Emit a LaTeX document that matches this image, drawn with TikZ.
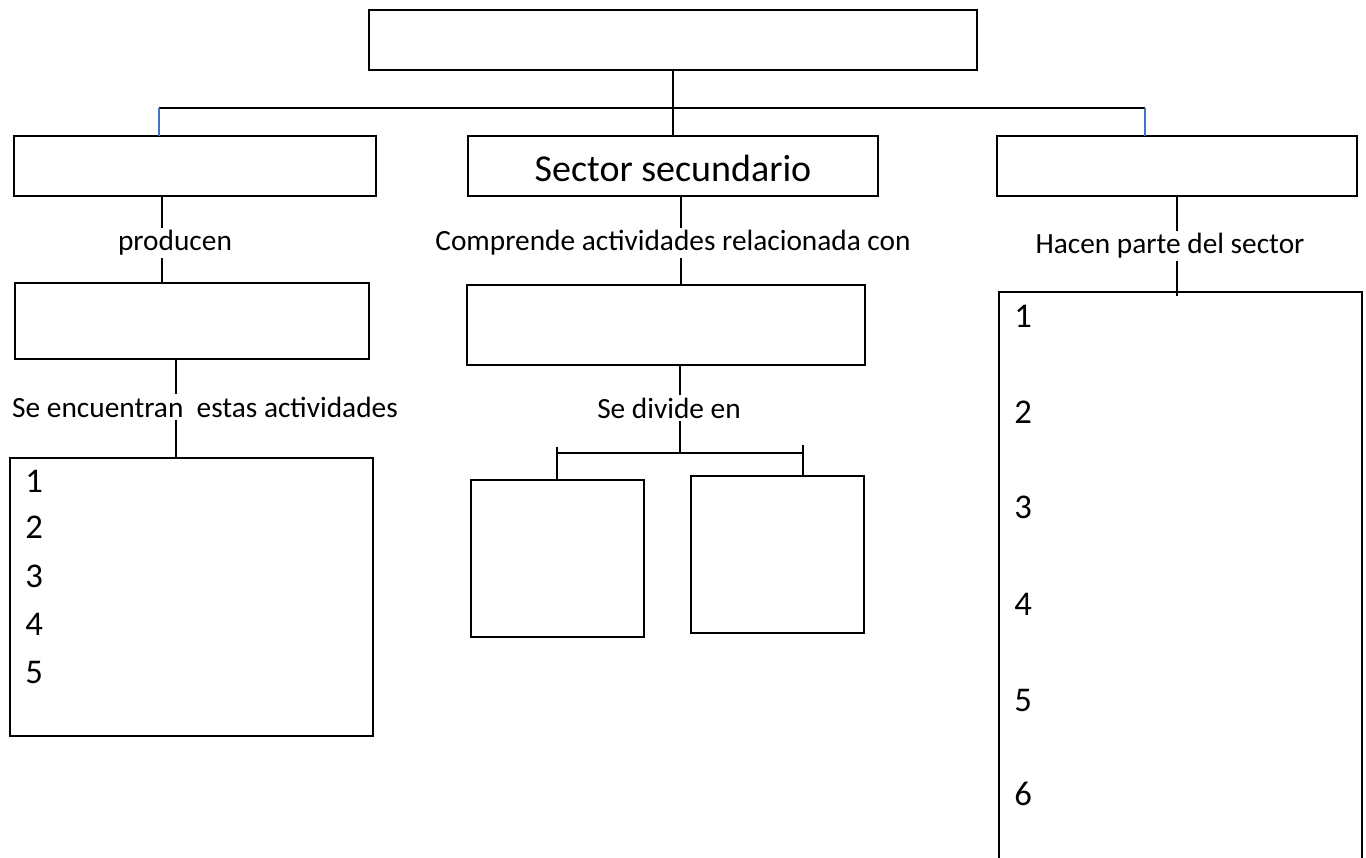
\documentclass[tikz,border=0pt]{standalone}
\usepackage{fontspec}
\setmainfont{Carlito}
\begin{document}
\begin{tikzpicture}[x=0.75pt,y=-0.75pt,
  box/.style={draw=black,line width=1.7pt,rectangle,inner sep=0pt,outer sep=0pt},
  conn/.style={draw=black,line width=1.7pt},
  blueconn/.style={draw=officeblue,line width=1.7pt},
  lbl/.style={font=\fontsize{22}{26}\selectfont,inner sep=0pt,outer sep=2pt},
  bigl/.style={font=\fontsize{28.5}{32}\selectfont,inner sep=0pt},
  num/.style={font=\fontsize{26}{30}\selectfont,anchor=west,inner sep=0pt}]
\definecolor{officeblue}{RGB}{68,114,196}
\useasboundingbox (0,0) rectangle (1366,857);
\clip (0,0) rectangle (1366,857);
\newcommand{\boxnode}[5]{\node[box,minimum width={(#4-#2)*0.75pt},minimum height={(#5-#3)*0.75pt}] (#1) at ({(#2+#4)/2},{(#3+#5)/2}) {};}
% boxes
\boxnode{top}{369}{10}{977}{70}
\boxnode{left}{14}{136}{376}{196}
\boxnode{sec}{468}{136}{878}{196}
\node[bigl] at (673,168) {Sector secundario};
\boxnode{right}{997}{136}{1357}{196}
\boxnode{lmid}{15}{283}{369}{359}
\boxnode{llist}{10}{458}{373}{736}
\boxnode{mmid}{467}{285}{865}{365}
\boxnode{sa}{471}{480}{644}{637}
\boxnode{sb}{691}{476}{864}{633}
\boxnode{rlist}{999}{292}{1362}{880}
% labels
\node[lbl] (prod) at (175,243) {producen};
\node[lbl] (enc) at (205,407) {Se encuentran\ \ estas actividades};
\node[lbl] (comp) at (673,243) {Comprende actividades relacionada con};
\node[lbl] (div) at (669,408) {Se divide en};
\node[lbl] (hace) at (1170,246) {Hacen parte del sector};
% numbers
\foreach \n/\y in {1/481,2/527,3/576,4/624,5/672} \node[num] (l\n) at (25,\y) {\n};
\foreach \n/\y in {1/316,2/412,3/507,4/604,5/700,6/794} \node[num] (r\n) at (1014,\y) {\n};
% helper coordinates
\coordinate (hl) at (159,108);
\coordinate (hr) at (1145,108);
\coordinate (xa) at (162,0);
\coordinate (xb) at (176,0);
\coordinate (xc) at (681,0);
\coordinate (xd) at (680,0);
\coordinate (xe) at (1177,0);
\coordinate (bl) at (557,453);
\coordinate (br) at (803,453);
% top connectors
\draw[conn] (top.south) -- (sec.north);
\draw[conn] (hl) -- (hr);
\draw[blueconn] (hl) -- (hl |- left.north);
\draw[blueconn] (hr) -- (hr |- right.north);
% left column
\draw[conn] (left.south -| xa) -- (prod.north -| xa);
\draw[conn] (prod.south -| xa) -- (lmid.north -| xa);
\draw[conn] (lmid.south -| xb) -- (enc.north -| xb);
\draw[conn] (enc.south -| xb) -- (llist.north -| xb);
% middle column
\draw[conn] (sec.south -| xc) -- (comp.north -| xc);
\draw[conn] (comp.south -| xc) -- (mmid.north -| xc);
\draw[conn] (mmid.south -| xd) -- (div.north -| xd);
\draw[conn] (div.south -| xd) -- (br -| xd);
\draw[conn] (bl) -- (br);
\draw[conn] ([yshift=6*0.75pt]bl) -- (sa.north -| bl);
\draw[conn] ([yshift=8*0.75pt]br) -- (sb.north -| br);
% right column
\draw[conn] (right.south -| xe) -- (hace.north -| xe);
\draw[conn] (hace.south -| xe) -- ([yshift=-4*0.75pt]rlist.north -| xe);
\end{tikzpicture}
\end{document}
